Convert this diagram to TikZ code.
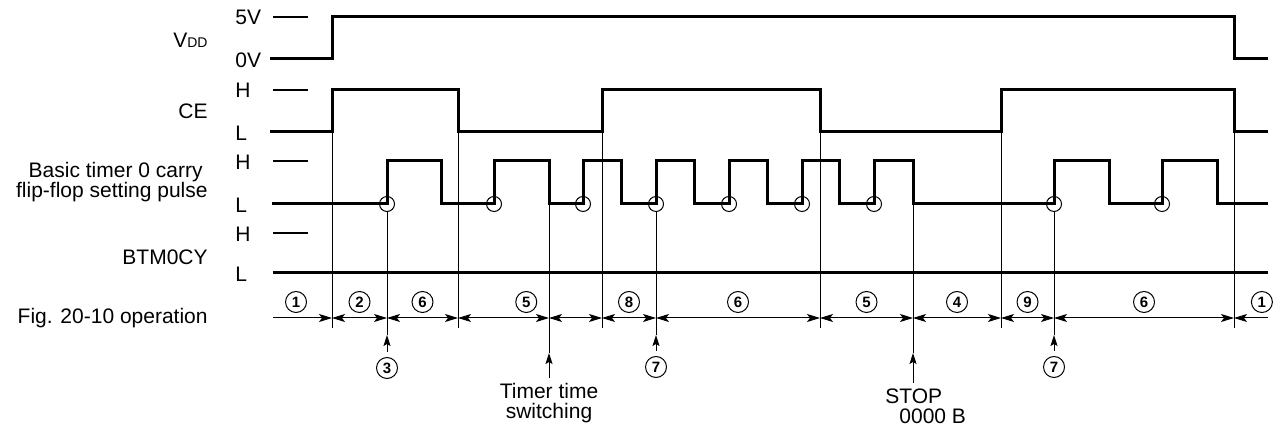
\documentclass[tikz,border=0pt]{standalone}
\usepackage{fontspec}
\setmainfont{Liberation Sans}
\usetikzlibrary{arrows.meta}

\begin{document}
\begin{tikzpicture}[x=0.5pt, y=-0.5pt,
    sig/.style={line width=1.5pt, line join=miter},
    tickln/.style={line width=1pt},
    guide/.style={line width=0.5pt},
    span/.style={line width=0.5pt, <->, >={Stealth[length=6.5pt, width=4pt, inset=1.5pt]}},
    uparr/.style={line width=0.5pt, -{Stealth[length=5.5pt, width=3.5pt, inset=1pt]}, shorten <=2.5pt},
    num/.style={circle, draw, line width=0.5pt, minimum size=10.5pt, inner sep=0pt,
                font=\fontsize{7.5}{7.5}\selectfont\bfseries},
    edgering/.style={circle, draw, line width=0.5pt, minimum size=7.5pt, inner sep=0pt},
    lbl/.style={inner sep=0pt, font=\fontsize{10.5}{10}\selectfont}
]
\useasboundingbox (0,0) rectangle (1288,431);

\node[lbl, anchor=east] (vdd) at (208,40) {V{\fontsize{7}{7}\selectfont DD}};
\node[lbl, anchor=east] (ce) at (208,111) {CE};
\node[lbl, anchor=east, align=right] (btp) at (208,182) {Basic timer 0 carry\hspace*{2.5pt}\\flip-flop setting pulse};
\node[lbl, anchor=east] (btm) at (208,257) {BTM0CY};
\node[lbl, anchor=east] (op) at (208,318) {Fig. 20-10 operation};

\node[lbl, anchor=west] (vhi) at (235,17) {5V};
\node[lbl, anchor=west] (vlo) at (235,60) {0V};
\node[lbl, anchor=west] (cehi) at (235,90) {H};
\node[lbl, anchor=west] (celo) at (235,133) {L};
\node[lbl, anchor=west] (phi) at (235,162) {H};
\node[lbl, anchor=west] (plo) at (235,205) {L};
\node[lbl, anchor=west] (bhi) at (235,234) {H};
\node[lbl, anchor=west] (blo) at (235,274) {L};

\draw[tickln] (273,17) -- (308,17);
\draw[tickln] (273,90) -- (308,90);
\draw[tickln] (273,161) -- (308,161);
\draw[tickln] (273,233) -- (308,233);

% waveforms
\draw[sig] (270,59) -- (332,59) -- (332,17) -- (1234,17) -- (1234,59) -- (1268,59);
\draw[sig] (270,132) -- (332,132) -- (332,90) -- (458,90) -- (458,132) -- (602,132) -- (602,90)
    -- (820,90) -- (820,132) -- (1001,132) -- (1001,90) -- (1234,90) -- (1234,132) -- (1268,132);
\draw[sig] (272,204) -- (387,204) -- (387,161) -- (441,161) -- (441,204) -- (494,204) -- (494,161)
    -- (549,161) -- (549,204) -- (583,204) -- (583,161) -- (621,161) -- (621,204) -- (656,204)
    -- (656,161) -- (694,161) -- (694,204) -- (729,204) -- (729,161) -- (767,161) -- (767,204)
    -- (802,204) -- (802,161) -- (839,161) -- (839,204) -- (874,204) -- (874,161) -- (913,161)
    -- (913,204) -- (1054,204) -- (1054,161) -- (1109,161) -- (1109,204) -- (1162,204) -- (1162,161)
    -- (1217,161) -- (1217,204) -- (1268,204);
\draw[sig] (273,273) -- (1268,273);

\node[edgering] (r1) at (387,204) {};
\node[edgering] (r2) at (494,204) {};
\node[edgering] (r3) at (583,204) {};
\node[edgering] (r4) at (656,204) {};
\node[edgering] (r5) at (729,204) {};
\node[edgering] (r6) at (802,204) {};
\node[edgering] (r7) at (874,204) {};
\node[edgering] (r8) at (1054,204) {};
\node[edgering] (r9) at (1162,204) {};

\draw[guide] (332,132) -- (332,328);
\draw[guide] (458,132) -- (458,328);
\draw[guide] (602,132) -- (602,328);
\draw[guide] (820,132) -- (820,328);
\draw[guide] (1001,132) -- (1001,328);
\draw[guide] (1234,132) -- (1234,328);

% operation spans
\coordinate (b0) at (273,318);
\coordinate (b1) at (332,318);
\coordinate (b2) at (387,318);
\coordinate (b3) at (458,318);
\coordinate (b4) at (549,318);
\coordinate (b5) at (602,318);
\coordinate (b6) at (656,318);
\coordinate (b7) at (820,318);
\coordinate (b8) at (913,318);
\coordinate (b9) at (1001,318);
\coordinate (b10) at (1054,318);
\coordinate (b11) at (1234,318);
\coordinate (b12) at (1268,318);

\draw[span, ->] (b0) -- node[num, above=2.5pt, pos=0.39] (s1) {1} (b1);
\draw[span] (b1) -- node[num, above=2.5pt] (s2) {2} (b2);
\draw[span] (b2) -- node[num, above=2.5pt] (s3) {6} (b3);
\draw[span] (b3) -- node[num, above=2.5pt, pos=0.75] (s4) {5} (b4);
\draw[span] (b4) -- (b5);
\draw[span] (b5) -- node[num, above=2.5pt] (s6) {8} (b6);
\draw[span] (b6) -- node[num, above=2.5pt] (s7) {6} (b7);
\draw[span] (b7) -- node[num, above=2.5pt] (s8) {5} (b8);
\draw[span] (b8) -- node[num, above=2.5pt] (s9) {4} (b9);
\draw[span] (b9) -- node[num, above=2.5pt] (s10) {9} (b10);
\draw[span] (b10) -- node[num, above=2.5pt] (s11) {6} (b11);
\draw[span, <-] (b11) -- node[num, above=2.5pt, pos=0.82] (s12) {1} (b12);

% events below
\coordinate (a3) at (387,335);
\coordinate (p4) at (549,204);
\coordinate (a4) at (549,353);
\coordinate (a6) at (656,335);
\coordinate (p8) at (913,204);
\coordinate (a8) at (913,353);
\coordinate (a10) at (1054,335);

\node[num] (c3) at (387,368) {3};
\node[lbl, anchor=north, align=center] (tts) at (549,383) {Timer time\\switching};
\node[num] (c7a) at (656,367) {7};
\node[lbl, anchor=north west, align=left] (stop) at (885,388) {STOP\\\hspace*{7pt}0000 B};
\node[num] (c7b) at (1054,367) {7};

\draw[guide] (r1) -- (a3);
\draw[guide] (p4) -- (a4);
\draw[guide] (r4) -- (a6);
\draw[guide] (p8) -- (a8);
\draw[guide] (r8) -- (a10);

\draw[uparr] (c3) -- (a3);
\draw[uparr] (tts) -- (a4);
\draw[uparr] (c7a) -- (a6);
\draw[uparr] (stop.north -| a8) -- (a8);
\draw[uparr] (c7b) -- (a10);

\end{tikzpicture}
\end{document}
